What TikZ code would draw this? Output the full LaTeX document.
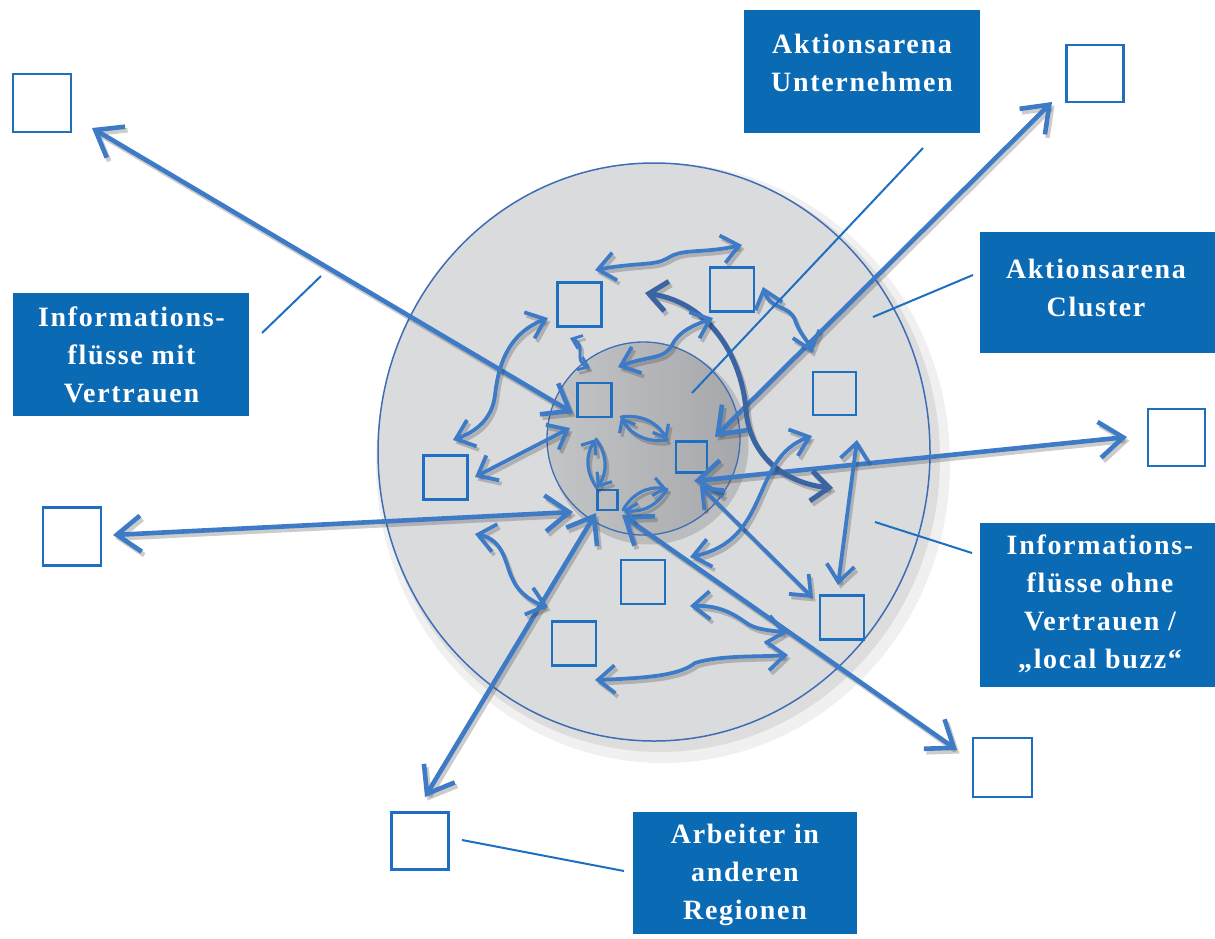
\documentclass[tikz,border=0pt]{standalone}
\usepackage{fontspec}
\setmainfont{Liberation Serif}
\newfontfamily\labfont[LetterSpace=6]{Liberation Serif}
\usetikzlibrary{arrows.meta,shapes.geometric}
\definecolor{arrblue}{HTML}{3D7BC7}
\definecolor{darkarr}{HTML}{3A64A2}
\definecolor{boxblue}{HTML}{0B6AB4}
\definecolor{sqblue}{HTML}{1E6FC2}
\definecolor{ringgray}{HTML}{DADBDD}
\definecolor{coreL}{HTML}{C4C5C7}
\definecolor{coreR}{HTML}{A6A7AA}
\definecolor{edgeblue}{HTML}{3F6DB5}
\newcommand\shdraw[2]{\draw[#1,draw=black!80,opacity=0.25,transform canvas={shift={(2.5,3.5)}}] #2; \draw[#1] #2;}
\tikzset{
  sq/.style={draw=sqblue, line width=2.2pt, inner sep=0pt, minimum width=#1, minimum height=#1},
  sq/.default=44,
  lbox/.style={fill=boxblue, inner sep=0pt},
  ltext/.style={text=white, font=\labfont\bfseries\fontsize{28}{38}\selectfont, align=center, inner sep=0pt},
  lline/.style={draw=sqblue, line width=2pt},
  bigarr/.style={draw=arrblue, line width=4.6pt, line cap=round, line join=round,
     {Straight Barb[length=24pt,width=36pt]}-{Straight Barb[length=24pt,width=36pt]}},
  midarr/.style={draw=arrblue, line width=3.8pt, line cap=round, line join=round,
     {Straight Barb[length=17pt,width=28pt]}-{Straight Barb[length=17pt,width=28pt]}},
  smallarr/.style={draw=arrblue, line width=2.8pt, line cap=round,
     {Straight Barb[length=9pt,width=14pt]}-{Straight Barb[length=9pt,width=14pt]}},
  lensarr/.style={draw=arrblue, line width=3.2pt, line cap=round, -{Straight Barb[length=11pt,width=18pt]}},
  arcarr/.style={draw=darkarr, line width=5pt, line cap=round,
     {Straight Barb[length=18pt,width=30pt]}-{Straight Barb[length=18pt,width=30pt]}},
}
\begin{document}
\begin{tikzpicture}[x=1pt,y=-1pt]
\useasboundingbox (0,0) rectangle (1215,938);
% shadow and disks
\node[ellipse, fill=black, opacity=0.06, minimum width=574, minimum height=600, inner sep=0pt] (sh1) at (663,463) {};
\node[ellipse, fill=black, opacity=0.08, minimum width=560, minimum height=586, inner sep=0pt] (sh2) at (660,459) {};
\node[ellipse, draw=edgeblue, line width=1.5pt, fill=ringgray, minimum width=552, minimum height=578, inner sep=0pt] (ring) at (654,452) {};
\node[circle, fill=black, opacity=0.14, minimum size=199, inner sep=0pt] (sh3) at (649,445) {};
\node[circle, draw=edgeblue, line width=1.3pt, left color=coreL, right color=coreR, minimum size=193, inner sep=0pt] (core) at (643.5,438.5) {};

% squares outside
\node[sq=58] (s1) at (42,103) {};
\node[sq=57] (s2) at (1095,73.5) {};
\node[sq=57] (s3) at (1176.5,437.5) {};
\node[sq=59] (s4) at (1002.5,767.5) {};
\node[sq=58] (s5) at (72,536.5) {};
\node[sq=57] (s6) at (420,841) {};
% squares in ring
\node[sq] (r1) at (579.5,304.5) {};
\node[sq] (r2) at (732,289.5) {};
\node[sq=43] (r3) at (834.5,393.5) {};
\node[sq] (r4) at (445.5,477.5) {};
\node[sq] (r5) at (643,582) {};
\node[sq] (r6) at (574,643.5) {};
\node[sq] (r7) at (842,617.5) {};
% squares in core
\node[sq=34] (i1) at (594.5,400) {};
\node[sq=31] (i2) at (691.5,457) {};
\node[sq=20] (i3) at (607.5,500) {};

% coordinates of arrow ends
\coordinate (a1s) at (573,413); \coordinate (a1e) at (92,128);
\coordinate (a2s) at (715,437); \coordinate (a2e) at (1052,102);
\coordinate (a3s) at (694,481); \coordinate (a3e) at (1127,437);
\coordinate (a4s) at (573,512); \coordinate (a4e) at (113,535);
\coordinate (a5s) at (596,513); \coordinate (a5e) at (425,797);
\coordinate (a6s) at (622,515); \coordinate (a6e) at (957,750);
\coordinate (m7s) at (700,486); \coordinate (m7e) at (813,598);
\coordinate (m8s) at (857,440); \coordinate (m8e) at (838,585);
\coordinate (m13s) at (475,477); \coordinate (m13e) at (570,428);
\coordinate (c9s) at (645,293); \coordinate (c9e) at (833,488);
\coordinate (c10s) at (812,436); \coordinate (c10e) at (690,557);
\coordinate (c11s) at (595,270); \coordinate (c11e) at (742,245);
\coordinate (c12s) at (548,318); \coordinate (c12e) at (453,440);
\coordinate (c14s) at (570,338); \coordinate (c14e) at (590,368);
\coordinate (c15s) at (618,367); \coordinate (c15e) at (713,318);
\coordinate (c16s) at (763,287); \coordinate (c16e) at (812,353);
\coordinate (c20s) at (475,534); \coordinate (c20e) at (548,607);
\coordinate (c21s) at (690,606); \coordinate (c21e) at (787,633);
\coordinate (c22s) at (595,680); \coordinate (c22e) at (788,655);
\coordinate (l17a) at (621,417); \coordinate (l17b) at (667,440);
\coordinate (l18a) at (596,439); \coordinate (l18b) at (597,488);
\coordinate (l19a) at (623,510); \coordinate (l19b) at (667,489);

% big straight arrows
\shdraw{bigarr}{(a1s) -- (a1e)}
\shdraw{bigarr}{(a2s) -- (a2e)}
\shdraw{bigarr}{(a3s) -- (a3e)}
\shdraw{bigarr}{(a4s) -- (a4e)}
\shdraw{bigarr}{(a5s) -- (a5e)}
\shdraw{bigarr}{(a6s) -- (a6e)}
% medium straight arrows
\shdraw{midarr}{(m7s) -- (m7e)}
\shdraw{midarr}{(m8s) -- (m8e)}
\shdraw{midarr}{(m13s) -- (m13e)}
% curved arrows
\shdraw{arcarr}{(c9s) .. controls (712,303) and (742,360) .. (746,410) .. controls (750,460) and (790,484) .. (c9e)}
\shdraw{midarr}{(c10s) .. controls (750,458) and (772,540) .. (c10e)}
\shdraw{midarr}{(c11s) .. controls (640,262) and (655,266) .. (668,258) .. controls (684,248) and (700,254) .. (c11e)}
\shdraw{midarr}{(c12s) .. controls (505,335) and (498,370) .. (495,395) .. controls (492,420) and (475,432) .. (c12e)}
\shdraw{smallarr}{(c14s) .. controls (588,345) and (572,360) .. (c14e)}
\shdraw{midarr}{(c15s) .. controls (650,355) and (664,360) .. (672,345) .. controls (680,330) and (695,325) .. (c15e)}
\shdraw{midarr}{(c16s) .. controls (770,310) and (790,305) .. (795,320) .. controls (800,335) and (808,340) .. (c16e)}
\shdraw{midarr}{(c20s) .. controls (505,540) and (505,565) .. (513,580) .. controls (520,595) and (535,603) .. (c20e)}
\shdraw{midarr}{(c21s) .. controls (720,605) and (735,615) .. (745,622) .. controls (755,630) and (770,630) .. (c21e)}
\shdraw{midarr}{(c22s) .. controls (650,678) and (680,675) .. (695,663) .. controls (720,655) and (760,657) .. (c22e)}
% lens arrows in the core
\shdraw{lensarr}{(l17a) to[bend left=35] (l17b)}
\shdraw{lensarr}{(l17b) to[bend left=35] (l17a)}
\shdraw{lensarr}{(l18a) to[bend left=35] (l18b)}
\shdraw{lensarr}{(l18b) to[bend left=35] (l18a)}
\shdraw{lensarr}{(l19a) to[bend left=35] (l19b)}
\shdraw{lensarr}{(l19b) to[bend left=35] (l19a)}

% labels
\node[lbox, minimum width=236, minimum height=123] (lu) at (862,71.5) {};
\node[ltext] (lut) at (862,63) {Aktionsarena\\Unternehmen};
\node[lbox, minimum width=236, minimum height=121] (lc) at (1097.5,292.5) {};
\node[ltext] (lct) at (1096,288) {Aktionsarena\\Cluster};
\node[lbox, minimum width=236, minimum height=123] (lm) at (131,354.5) {};
\node[ltext] (lmt) at (131.5,355) {Informations-\\flüsse mit\\Vertrauen};
\node[lbox, minimum width=236, minimum height=164] (lo) at (1097.5,605) {};
\node[ltext] (lot) at (1100,604) {Informations-\\flüsse ohne\\Vertrauen /\\„local buzz“};
\node[lbox, minimum width=224, minimum height=122] (la) at (745,873) {};
\node[ltext] (lat) at (745,875) {Arbeiter in\\anderen\\Regionen};

% label pointer lines
\coordinate (p1a) at (923,148); \coordinate (p1b) at (692,393);
\coordinate (p2a) at (973,275); \coordinate (p2b) at (873,317);
\coordinate (p3a) at (321,276); \coordinate (p3b) at (262,333);
\coordinate (p4a) at (972,553); \coordinate (p4b) at (875,522);
\coordinate (p5a) at (624,871); \coordinate (p5b) at (462,840);
\draw[lline] (p1a) -- (p1b);
\draw[lline] (p2a) -- (p2b);
\draw[lline] (p3a) -- (p3b);
\draw[lline] (p4a) -- (p4b);
\draw[lline] (p5a) -- (p5b);
\end{tikzpicture}
\end{document}
